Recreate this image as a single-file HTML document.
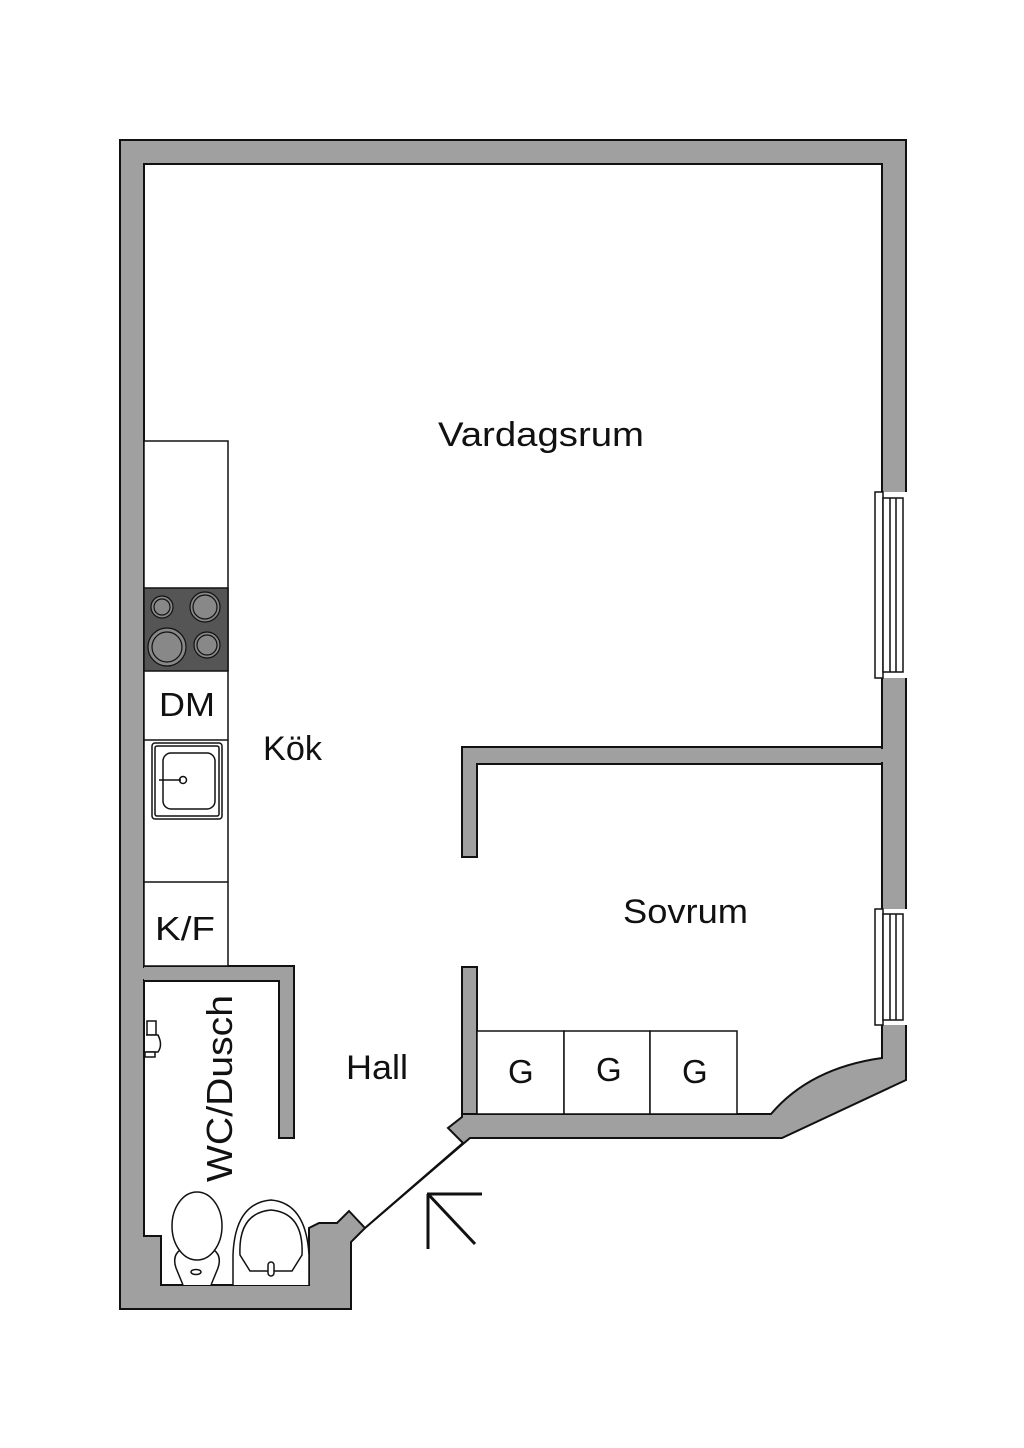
<!DOCTYPE html>
<html><head><meta charset="utf-8"><style>
html,body{margin:0;padding:0;background:#fff}
svg{display:block}
text{font-family:"Liberation Sans",sans-serif;fill:#111}
</style></head><body>
<svg width="1024" height="1448" viewBox="0 0 1024 1448" xmlns="http://www.w3.org/2000/svg">
<rect width="1024" height="1448" fill="#fff"/>
<polygon points="120,140 906,140 906,1080 782,1138 470,1138 463,1144 365,1228 351,1242 351,1309 120,1309" fill="#a0a0a0" stroke="#111" stroke-width="2"/>
<path d="M144,164 L882,164 L882,1058 Q810,1068 771,1114 L462,1114 L462,1117 L448,1128 L463,1143 L365,1228 L349,1211 L337,1223 L319,1223 L309,1228 L309,1285 L161,1285 L161,1236 L144,1236 Z" fill="#fff" stroke="#111" stroke-width="2"/>
<line x1="463" y1="1143" x2="365" y2="1228" stroke="#111" stroke-width="1.5"/>
<path d="M462,857 L462,747 L882,747 L882,764 L477,764 L477,857 Z" fill="#a0a0a0" stroke="#111" stroke-width="2"/>
<rect x="880" y="749" width="4" height="13" fill="#a0a0a0"/>
<path d="M462,967 L477,967 L477,1114 L462,1114 Z" fill="#a0a0a0" stroke="#111" stroke-width="2"/>
<path d="M144,966 L294,966 L294,1138 L279,1138 L279,981 L144,981" fill="#a0a0a0" stroke="#111" stroke-width="2"/>
<rect x="121" y="968" width="24" height="11" fill="#a0a0a0"/>
<g stroke="#111" stroke-width="1.5" fill="#fff">
<rect x="881" y="492" width="26" height="186" stroke="none"/>
<rect x="875" y="492" width="8" height="186"/>
<rect x="883" y="498" width="20" height="174"/>
<line x1="890" y1="498" x2="890" y2="672"/><line x1="896" y1="498" x2="896" y2="672"/>
<rect x="881" y="909" width="26" height="116" stroke="none"/>
<rect x="875" y="909" width="8" height="116"/>
<rect x="883" y="914" width="20" height="106"/>
<line x1="890" y1="914" x2="890" y2="1020"/><line x1="896" y1="914" x2="896" y2="1020"/>
</g>
<g stroke="#111" stroke-width="1.5" fill="none">
<rect x="144" y="441" width="84" height="525" fill="#fff"/>
<line x1="144" y1="740" x2="228" y2="740"/>
<line x1="144" y1="882" x2="228" y2="882"/>
</g>
<rect x="144" y="588" width="84" height="83" fill="#555" stroke="#111" stroke-width="1.5"/>
<g fill="#888" stroke="#111" stroke-width="1.2">
<circle cx="162" cy="607" r="11"/><circle cx="162" cy="607" r="8"/>
<circle cx="205" cy="607" r="15"/><circle cx="205" cy="607" r="12"/>
<circle cx="167" cy="647" r="19"/><circle cx="167" cy="647" r="15"/>
<circle cx="207" cy="645" r="13"/><circle cx="207" cy="645" r="10"/>
</g>
<g stroke="#111" stroke-width="1.5" fill="none">
<rect x="152" y="743" width="70" height="76" rx="3"/>
<rect x="155" y="746" width="64" height="70" rx="2"/>
<rect x="163" y="753" width="52" height="56" rx="8"/>
<line x1="159" y1="780" x2="181" y2="780"/>
<circle cx="183" cy="780" r="3.5"/>
</g>
<g stroke="#111" stroke-width="1.5" fill="#fff">
<path d="M183,1285 L176,1268 Q172,1256 180,1250 L214,1250 Q222,1256 218,1268 L211,1285"/>
<ellipse cx="197" cy="1226" rx="25" ry="34"/>
<ellipse cx="196" cy="1272" rx="5" ry="2.5"/>
<path d="M233,1285 L233,1255 Q235,1203 271,1200 Q306,1203 309,1255 L309,1285"/>
<path d="M240,1255 Q238,1213 271,1210 Q304,1213 302,1255 L292,1271 L250,1271 Z"/>
<rect x="268" y="1262" width="6" height="14" rx="3"/>
<rect x="147" y="1021" width="9" height="14"/>
<path d="M146,1035 L158,1035 Q163,1045 158,1052 L146,1052"/>
<rect x="145" y="1052" width="10" height="5"/>
</g>
<g stroke="#111" stroke-width="1.5" fill="#fff">
<rect x="477" y="1031" width="87" height="83"/>
<rect x="564" y="1031" width="86" height="83"/>
<rect x="650" y="1031" width="87" height="83"/>
</g>
<g stroke="#111" stroke-width="3" fill="none">
<line x1="428" y1="1194" x2="428" y2="1249"/>
<line x1="427" y1="1194" x2="482" y2="1194"/>
<line x1="428" y1="1194" x2="475" y2="1244"/>
</g>
<text x="438" y="446" font-size="34" textLength="206" lengthAdjust="spacingAndGlyphs">Vardagsrum</text>
<text x="263" y="760" font-size="34" textLength="59" lengthAdjust="spacingAndGlyphs">Kök</text>
<text x="623" y="923" font-size="34" textLength="125" lengthAdjust="spacingAndGlyphs">Sovrum</text>
<text x="346" y="1079" font-size="34" textLength="62" lengthAdjust="spacingAndGlyphs">Hall</text>
<text x="159" y="716" font-size="33" textLength="56" lengthAdjust="spacingAndGlyphs">DM</text>
<text x="155" y="940" font-size="33" textLength="60" lengthAdjust="spacingAndGlyphs">K/F</text>
<text x="508" y="1083" font-size="33">G</text>
<text x="596" y="1081" font-size="33">G</text>
<text x="682" y="1083" font-size="33">G</text>
<text transform="translate(232,1182) rotate(-90)" font-size="36" textLength="187" lengthAdjust="spacingAndGlyphs">WC/Dusch</text>
</svg>
</body></html>
